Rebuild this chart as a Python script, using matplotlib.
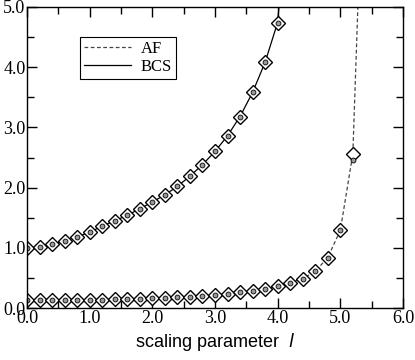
import numpy as np
import matplotlib
matplotlib.use("Agg")
import matplotlib.pyplot as plt

# scaling parameter values (step 0.2)
bcs_x = [0.0, 0.2, 0.4, 0.6, 0.8, 1.0, 1.2, 1.4, 1.6, 1.8, 2.0,
         2.2, 2.4, 2.6, 2.8, 3.0, 3.2, 3.4, 3.6, 3.8, 4.0]
bcs_y = [1.00, 1.01, 1.06, 1.12, 1.18, 1.26, 1.36, 1.45, 1.54, 1.65, 1.76,
         1.88, 2.02, 2.19, 2.38, 2.60, 2.86, 3.18, 3.58, 4.08, 4.74]
# curve keeps diverging past the last computed point
bcs_tail_x = [4.0, 4.1]
bcs_tail_y = [4.74, 6.0]

af_x = [0.0, 0.2, 0.4, 0.6, 0.8, 1.0, 1.2, 1.4, 1.6, 1.8, 2.0, 2.2, 2.4, 2.6,
        2.8, 3.0, 3.2, 3.4, 3.6, 3.8, 4.0, 4.2, 4.4, 4.6, 4.8, 5.0, 5.2]
af_y = [0.13, 0.13, 0.13, 0.13, 0.14, 0.14, 0.14, 0.15, 0.15, 0.16, 0.17, 0.17,
        0.18, 0.19, 0.20, 0.22, 0.24, 0.26, 0.29, 0.32, 0.36, 0.42, 0.49, 0.61,
        0.84, 1.29, 2.56]
af_circ_y = af_y[:-1] + [2.46]
af_tail_x = [5.2, 5.3]
af_tail_y = [2.56, 5.6]

serif = "Liberation Serif"
sans = "Liberation Sans"

fig = plt.figure(figsize=(4.15, 3.6), dpi=100)
ax = fig.add_axes([0.065, 0.144, 0.906, 0.837])

ax.plot(af_x + af_tail_x[1:], af_y + af_tail_y[1:], ls=(0, (3, 2)), color="#444444",
        lw=0.9, label="AF")
ax.plot(bcs_x + bcs_tail_x[1:], bcs_y + bcs_tail_y[1:], ls="-", color="black",
        lw=0.9, label="BCS")

for xs, ys in [(bcs_x, bcs_y), (af_x, af_y)]:
    ax.plot(xs, ys, ls="none", marker="D", ms=7, mfc="white", mec="black", mew=1.0)
ax.plot(bcs_x, bcs_y, ls="none", marker="o", ms=3.5, mfc="#999999", mec="black", mew=0.6)
ax.plot(af_x, af_circ_y, ls="none", marker="o", ms=3.5, mfc="#999999", mec="black", mew=0.6)

ax.set_xlim(0, 6)
ax.set_ylim(0, 5)
ax.set_xticks(np.arange(0, 6.01, 1.0))
ax.set_yticks(np.arange(0, 5.01, 1.0))
ax.set_xticks(np.arange(0.5, 6, 1.0), minor=True)
ax.set_yticks(np.arange(0.5, 5, 1.0), minor=True)
ax.set_xticklabels(["%.1f" % v for v in np.arange(0, 6.01, 1.0)], family=serif, fontsize=13)
ax.set_yticklabels(["%.1f" % v for v in np.arange(0, 5.01, 1.0)], family=serif, fontsize=13)
ax.tick_params(which="both", direction="in", top=True, right=True, width=1.0)
ax.tick_params(which="major", length=7, pad=1)
ax.tick_params(which="minor", length=5)
for s in ax.spines.values():
    s.set_linewidth(1.0)

ax.set_xlabel("scaling parameter  $\\mathit{l}$", family=sans, fontsize=13, labelpad=3)

leg = ax.legend(loc="upper left", bbox_to_anchor=(0.141, 0.90), prop={"family": serif, "size": 12},
                fancybox=False, edgecolor="black", framealpha=1, handlelength=2.8,
                borderpad=0.25, labelspacing=0.1, handletextpad=0.6, borderaxespad=0)
leg.get_frame().set_linewidth(0.8)

fig.savefig("out.png", dpi=100)
